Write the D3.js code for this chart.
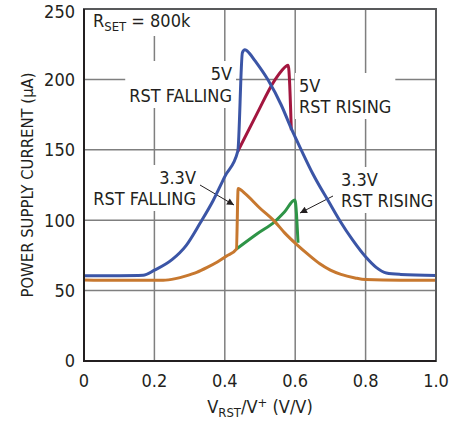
<!DOCTYPE html>
<html>
<head>
<meta charset="utf-8">
<script src="https://cdn.jsdelivr.net/npm/d3@7"></script>
<style>
  body { margin: 0; background: #fff; }
  svg { display: block; }
  svg text { font-family: "Liberation Sans Narrow", "DejaVu Sans Condensed", sans-serif; fill: #231f20; }
</style>
</head>
<body>
<div id="chart"></div>
<script>
const xTicks = [0, 0.2, 0.4, 0.6, 0.8, 1.0];
const yTicks = [0, 50, 100, 150, 200, 250];

// [V_RST/V+, current uA]
const rise5v = [[0.437, 149], [0.49, 175], [0.542, 199.5], [0.561, 206], [0.58, 210], [0.589, 164]];
const fall5v = [[0, 60.5], [0.1, 60.6], [0.168, 60.9], [0.2, 64.5], [0.25, 72], [0.29, 82], [0.33, 98], [0.367, 114],
  [0.4, 131], [0.437, 149], [0.45, 219], [0.457, 221], [0.47, 218.5], [0.485, 213.5], [0.523, 199.5], [0.56, 182],
  [0.589, 165], [0.617, 150], [0.65, 133], [0.698, 112], [0.726, 100], [0.763, 86], [0.8, 74], [0.83, 66.5],
  [0.859, 62.5], [0.9, 61.5], [1.0, 60.8]];
const rise33v = [[0.433, 79.5], [0.494, 90.7], [0.542, 99], [0.57, 106], [0.599, 114.3], [0.608, 84]];
const fall33v = [[0, 57.5], [0.1, 57.3], [0.225, 57.3], [0.26, 58.5], [0.29, 60.5], [0.32, 63], [0.35, 66.5], [0.38, 70.5],
  [0.405, 74.5], [0.433, 79.5], [0.438, 122.6], [0.457, 119], [0.5, 108.5], [0.542, 99], [0.57, 91], [0.603, 83],
  [0.64, 75], [0.67, 69], [0.70, 64.5], [0.73, 61.5], [0.77, 59], [0.8, 57.8], [0.9, 57.3], [1.0, 57.3]];

const series = [
  { data: rise5v, color: "#a3163f" },
  { data: fall5v, color: "#3b55a6" },
  { data: rise33v, color: "#2e9447" },
  { data: fall33v, color: "#c7782f" }
];

const width = 465, height = 421;
const margin = { top: 9, right: 29, bottom: 60, left: 84 };

const svg = d3.select("#chart").append("svg")
  .attr("width", width).attr("height", height)
  .attr("viewBox", `0 0 ${width} ${height}`);

const x = d3.scaleLinear().domain([0, 1]).range([margin.left, width - margin.right]);
const y = d3.scaleLinear().domain([0, 250]).range([height - margin.bottom, margin.top]);

// grid
svg.append("g").selectAll("line").data(xTicks.slice(1, -1)).join("line")
  .attr("x1", d => x(d)).attr("x2", d => x(d)).attr("y1", y(250)).attr("y2", y(0))
  .attr("stroke", "#7f7f7f").attr("stroke-width", 1.5);
svg.append("g").selectAll("line").data(yTicks.slice(1, -1)).join("line")
  .attr("y1", d => y(d)).attr("y2", d => y(d)).attr("x1", x(0)).attr("x2", x(1))
  .attr("stroke", "#7f7f7f").attr("stroke-width", 1.5);

// label boxes cut the grid
const boxLayer = svg.append("g");
const labelLayer = svg.append("g");

function block(lines, anchor, px, py, lh) {
  const t = labelLayer.append("text").attr("text-anchor", anchor).style("font-size", "18px");
  lines.forEach((l, i) => {
    const ts = t.append("tspan").attr("x", px).attr("y", py + i * lh);
    if (Array.isArray(l)) l.forEach(p => ts.append("tspan").attr("dy", p.dy || null).style("font-size", p.size || null).text(p.t));
    else ts.text(l);
  });
  return t;
}

const blocks = [
  block([[{ t: "R" }, { t: "SET", size: "13px", dy: 4 }, { t: " = 800k", dy: -4 }]], "start", 93, 27, 0),
  block(["5V", "RST FALLING"], "end", 232, 80, 22),
  block(["5V", "RST RISING"], "start", 299, 92, 21),
  block(["3.3V", "RST FALLING"], "end", 196, 184, 21),
  block(["3.3V", "RST RISING"], "start", 341, 186, 21)
];
blocks.forEach(t => {
  const b = t.node().getBBox();
  boxLayer.append("rect")
    .attr("x", b.x - 4).attr("y", b.y - 2).attr("width", b.width + 8).attr("height", b.height + 4)
    .attr("fill", "#fff");
});

// arrows
svg.append("defs").append("marker").attr("id", "arr")
  .attr("viewBox", "0 0 10 10").attr("refX", 10).attr("refY", 5)
  .attr("markerWidth", 9).attr("markerHeight", 7).attr("markerUnits", "userSpaceOnUse")
  .attr("orient", "auto")
  .append("path").attr("d", "M0,0L10,5L0,10Z").attr("fill", "#231f20");
svg.append("line").attr("x1", 200).attr("y1", 185).attr("x2", 234).attr("y2", 205)
  .attr("stroke", "#231f20").attr("stroke-width", 1).attr("marker-end", "url(#arr)");
svg.append("line").attr("x1", 333).attr("y1", 196).attr("x2", 300).attr("y2", 213)
  .attr("stroke", "#231f20").attr("stroke-width", 1).attr("marker-end", "url(#arr)");

// curves
const line = d3.line().x(d => x(d[0])).y(d => y(d[1])).curve(d3.curveMonotoneX);
svg.append("g").selectAll("path").data(series).join("path")
  .attr("d", d => line(d.data))
  .attr("fill", "none")
  .attr("stroke", d => d.color)
  .attr("stroke-width", 3)
  .attr("stroke-linejoin", "round");

// frame
svg.append("rect").attr("x", x(0)).attr("y", y(250)).attr("width", x(1) - x(0)).attr("height", y(0) - y(250))
  .attr("fill", "none").attr("stroke", "#58595b").attr("stroke-width", 2);
svg.append("path").attr("d", `M${x(0)},${y(250)}V${y(0)}H${x(1)}`)
  .attr("fill", "none").attr("stroke", "#231f20").attr("stroke-width", 2);

// tick labels (top one nudged down to stay inside the page)
svg.append("g").selectAll("text").data(yTicks).join("text")
  .attr("x", x(0) - 9).attr("y", d => y(d) + (d === 250 ? 3 : 0)).attr("dy", "0.35em")
  .attr("text-anchor", "end").style("font-size", "18px").text(d => d);
svg.append("g").selectAll("text").data(xTicks).join("text")
  .attr("x", d => x(d)).attr("y", y(0) + 26)
  .attr("text-anchor", "middle").style("font-size", "18px").text(d => d === 0 ? "0" : d.toFixed(1));

// axis titles
const xt = svg.append("text").attr("x", (x(0) + x(1)) / 2).attr("y", y(0) + 52)
  .attr("text-anchor", "middle").style("font-size", "18px");
xt.append("tspan").text("V");
xt.append("tspan").attr("dy", 4).style("font-size", "13px").text("RST");
xt.append("tspan").attr("dy", -4).text("/V");
xt.append("tspan").attr("dy", -6).style("font-size", "13px").text("+");
xt.append("tspan").attr("dy", 6).text(" (V/V)");

svg.append("text").attr("transform", "translate(33,185) rotate(-90)")
  .attr("text-anchor", "middle").style("font-size", "16.5px")
  .text("POWER SUPPLY CURRENT (µA)");
</script>
</body>
</html>
